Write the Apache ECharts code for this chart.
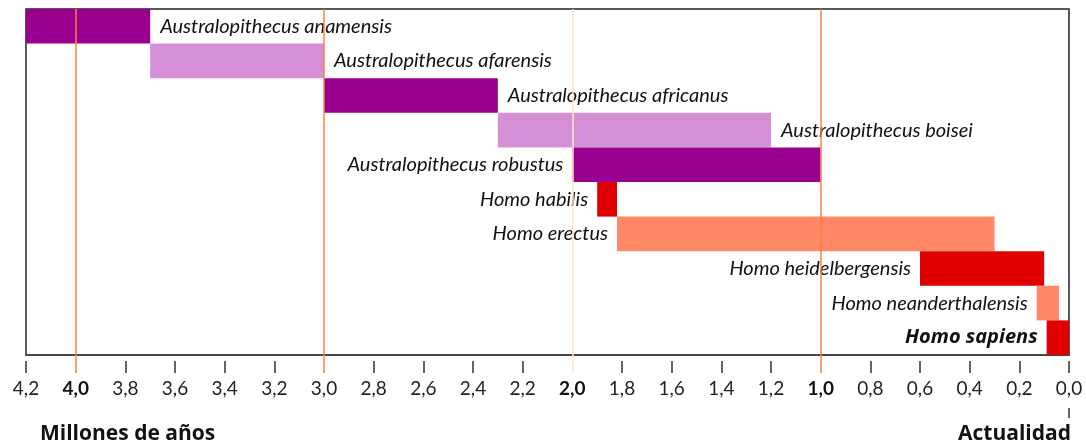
<!DOCTYPE html>
<html>
<head>
<meta charset="utf-8">
<script src="https://cdn.jsdelivr.net/npm/echarts@6/dist/echarts.min.js"></script>
<style>
  html, body { margin: 0; padding: 0; background: #fff; }
  #main { width: 1086px; height: 442px; }
</style>
</head>
<body>
<div id="main"></div>
<script>
// species, from oldest to newest (one row each)
const species = [
  "Australopithecus anamensis",
  "Australopithecus afarensis",
  "Australopithecus africanus",
  "Australopithecus boisei",
  "Australopithecus robustus",
  "Homo habilis",
  "Homo erectus",
  "Homo heidelbergensis",
  "Homo neanderthalensis",
  "Homo sapiens"
];
// millions of years ago
const starts = [4.2, 3.7, 3.0, 2.3, 2.0, 1.9, 1.82, 0.6, 0.13, 0.09];
const ends = [3.7, 3.0, 2.3, 1.2, 1.0, 1.82, 0.3, 0.1, 0.04, 0.0];
const colors = ["#990090", "#d58fd6", "#990090", "#d58fd6", "#990090",
  "#e00000", "#ff8866", "#e00000", "#ff8866", "#e00000"];
const labelSide = ["right", "right", "right", "right", "left",
  "left", "left", "left", "left", "left"];

const tickValues = [4.2, 3.8, 3.6, 3.4, 3.2, 2.8, 2.6, 2.4, 2.2, 1.8, 1.6,
  1.4, 1.2, 0.8, 0.6, 0.4, 0.2, 0.0];
const markedLines = [4.0, 3.0, 1.0];
const boldLabels = [4.0, 2.0, 1.0];

const chart = echarts.init(document.getElementById("main"));

const baseX = {
  type: "value",
  min: 0,
  max: 4.2,
  inverse: true,
  position: "bottom",
  splitLine: { show: false },
  axisLabel: { show: false },
  axisLine: { show: false }
};

chart.setOption({
  animation: false,
  grid: {
    left: 26, right: 17, top: 9, bottom: 87,
    show: true, borderColor: "#222", borderWidth: 1.5
  },
  xAxis: [
    {
      ...baseX,
      interval: 0.2,
      axisLine: { show: true, lineStyle: { color: "#444", width: 1.5 } },
      axisTick: { show: false },
      axisLabel: {
        show: true,
        margin: 24,
        showMinLabel: true,
        showMaxLabel: true,
        fontFamily: "Lato",
        fontSize: 19,
        color: "#222",
        formatter: function (v) {
          const s = (Math.round(v * 10) / 10).toFixed(1).replace(".", ",");
          return boldLabels.some(b => Math.abs(b - v) < 1e-6) ? "{b|" + s + "}" : s;
        },
        rich: { b: { fontFamily: "Lato", fontSize: 19, fontWeight: "bold", color: "#111" } }
      }
    },
    {
      ...baseX,
      offset: 6,
      axisTick: { show: true, length: 12, customValues: tickValues,
        lineStyle: { color: "#333", width: 1.5 } }
    },
    {
      ...baseX,
      axisTick: { show: true, length: 18, customValues: markedLines,
        lineStyle: { color: "#ff7f3f", width: 1.5 } }
    },
    {
      ...baseX,
      axisTick: { show: true, length: 18, customValues: [2.0],
        lineStyle: { color: "#ffe6bf", width: 1.5 } }
    },
    {
      ...baseX,
      offset: 53,
      axisTick: { show: true, length: 10, customValues: [0.0],
        lineStyle: { color: "#333", width: 1.5 } }
    }
  ],
  yAxis: {
    type: "category",
    data: species,
    inverse: true,
    show: false
  },
  graphic: [
    { type: "text", left: 40, top: 424,
      style: { text: "Millones de años", font: "bold 21px 'Open Sans'", fill: "#111" } },
    { type: "text", right: 15, top: 424,
      style: { text: "Actualidad", font: "bold 21px 'Open Sans'", fill: "#111" } }
  ],
  series: [
    {
      type: "line",
      data: [],
      z: 1,
      markLine: {
        silent: true,
        symbol: "none",
        label: { show: false },
        data: markedLines.map(v => ({ xAxis: v, lineStyle: { color: "#ff7f3f", width: 1.5, type: "solid" } }))
          .concat([{ xAxis: 2.0, lineStyle: { color: "#ffe6bf", width: 1.5, type: "solid" } }])
      }
    },
    {
      type: "custom",
      z: 3,
      clip: false,
      encode: { x: [0, 1], y: 2 },
      data: species.map((s, i) => [starts[i], ends[i], i]),
      renderItem: function (params, api) {
        const i = api.value(2);
        const p0 = api.coord([api.value(0), i]);
        const p1 = api.coord([api.value(1), i]);
        const h = api.size([0, 1])[1];
        const right = labelSide[i] === "right";
        return {
          type: "group",
          children: [
            {
              type: "rect",
              shape: { x: p0[0], y: p0[1] - h / 2, width: p1[0] - p0[0], height: h },
              style: { fill: colors[i] }
            },
            {
              type: "text",
              style: {
                text: species[i],
                x: right ? p1[0] + 10 : p0[0] - 9,
                y: p0[1],
                align: right ? "left" : "right",
                verticalAlign: "middle",
                font: i === 9 ? "italic bold 20px 'Open Sans'" : "italic 20px Lato",
                fill: "#111"
              }
            }
          ]
        };
      }
    }
  ]
});
</script>
</body>
</html>
